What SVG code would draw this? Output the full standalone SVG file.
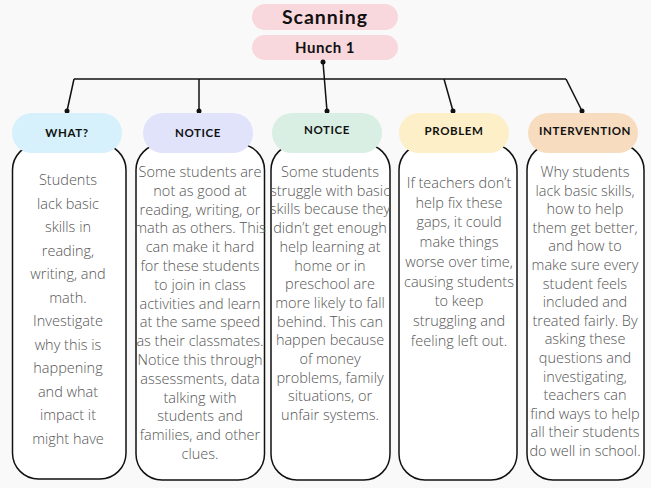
<svg xmlns="http://www.w3.org/2000/svg" width="651" height="488" viewBox="0 0 651 488">
<style>
.bg{fill:#f9f9f9}
.pill{stroke:none}
.box{fill:#ffffff;stroke:#111;stroke-width:1.5}
.hd{font-family:"Lato","Liberation Sans",sans-serif;font-weight:bold;font-size:11.5px;letter-spacing:0.6px;fill:#111;text-anchor:middle}
.tt{font-family:"Lato","Liberation Sans",sans-serif;font-weight:bold;fill:#111;text-anchor:middle}
.bd{font-family:"Open Sans","Liberation Sans",sans-serif;font-weight:300;fill:#555;text-anchor:middle;font-size:14.5px}
.ln{fill:none;stroke:#111;stroke-width:1.5}
.dot{fill:#111}
</style>
<rect class="bg" x="0" y="0" width="651" height="488"/>
<g id="scanning"><rect class="pill" x="252" y="4" width="146" height="26" rx="13" fill="#f8d8dd"/><text class="tt" x="325" y="24" font-size="19.5" letter-spacing="1">Scanning</text></g>
<g id="hunch"><rect class="pill" x="252" y="35" width="146" height="25" rx="12.5" fill="#f8d8dd"/><text class="tt" x="325" y="53" font-size="15" letter-spacing="0.5">Hunch 1</text></g>
<g id="connectors">
<circle class="dot" cx="323" cy="62" r="2.5"/>
<path class="ln" d="M323,62 L327,111"/>
<path class="ln" d="M74,79 L566,79"/>
<path class="ln" d="M74,79 L67,111"/>
<path class="ln" d="M199,79 L199,111"/>
<path class="ln" d="M444,79 L453,111"/>
<path class="ln" d="M566,79 L582,111"/>
<circle class="dot" cx="67" cy="111" r="2.5"/>
<circle class="dot" cx="199" cy="111" r="2.5"/>
<circle class="dot" cx="327" cy="111" r="2.5"/>
<circle class="dot" cx="453" cy="111" r="2.5"/>
<circle class="dot" cx="582" cy="111" r="2.5"/>
</g>
<g id="what">
<rect class="box" x="12.5" y="144" width="113.5" height="335" rx="26"/>
<rect class="pill" x="12" y="113" width="110" height="40" rx="20" fill="#d6f1fb"/>
<text class="hd" x="67" y="137">WHAT?</text>
<text class="bd" font-size="17.5">
<tspan x="68" y="185">Students</tspan><tspan x="68" y="208.5">lack basic</tspan><tspan x="68" y="232">skills in</tspan><tspan x="68" y="255.5">reading,</tspan><tspan x="68" y="279">writing, and</tspan><tspan x="68" y="302.5">math.</tspan><tspan x="68" y="326">Investigate</tspan><tspan x="68" y="349.5">why this is</tspan><tspan x="68" y="373">happening</tspan><tspan x="68" y="396.5">and what</tspan><tspan x="68" y="420">impact it</tspan><tspan x="68" y="443.5">might have</tspan>
</text>
</g>
<g id="notice1">
<rect class="box" x="136" y="144" width="128.5" height="336" rx="26"/>
<rect class="pill" x="143" y="113" width="110" height="40" rx="20" fill="#e1e3fb"/>
<text class="hd" x="198" y="137">NOTICE</text>
<text class="bd">
<tspan x="200" y="177">Some students are</tspan><tspan x="200" y="195.8">not as good at</tspan><tspan x="200" y="214.6">reading, writing, or</tspan><tspan x="200" y="233.4">math as others. This</tspan><tspan x="200" y="252.2">can make it hard</tspan><tspan x="200" y="271">for these students</tspan><tspan x="200" y="289.8">to join in class</tspan><tspan x="200" y="308.6">activities and learn</tspan><tspan x="200" y="327.4">at the same speed</tspan><tspan x="200" y="346.2">as their classmates.</tspan><tspan x="200" y="365">Notice this through</tspan><tspan x="200" y="383.8">assessments, data</tspan><tspan x="200" y="402.6">talking with</tspan><tspan x="200" y="421.4">students and</tspan><tspan x="200" y="440.2">families, and other</tspan><tspan x="200" y="459">clues.</tspan>
</text>
</g>
<g id="notice2">
<rect class="box" x="271" y="144" width="119" height="336" rx="26"/>
<rect class="pill" x="272" y="113" width="110" height="40" rx="20" fill="#d9efe3"/>
<text class="hd" x="327" y="134">NOTICE</text>
<text class="bd">
<tspan x="330" y="177">Some students</tspan><tspan x="330" y="195.7">struggle with basic</tspan><tspan x="330" y="214.4">skills because they</tspan><tspan x="330" y="233.1">didn’t get enough</tspan><tspan x="330" y="251.8">help learning at</tspan><tspan x="330" y="270.5">home or in</tspan><tspan x="330" y="289.2">preschool are</tspan><tspan x="330" y="307.9">more likely to fall</tspan><tspan x="330" y="326.6">behind. This can</tspan><tspan x="330" y="345.3">happen because</tspan><tspan x="330" y="364">of money</tspan><tspan x="330" y="382.7">problems, family</tspan><tspan x="330" y="401.4">situations, or</tspan><tspan x="330" y="420.1">unfair systems.</tspan>
</text>
</g>
<g id="problem">
<rect class="box" x="399" y="144" width="118" height="336" rx="26"/>
<rect class="pill" x="399" y="113" width="110" height="40" rx="20" fill="#fdefc7"/>
<text class="hd" x="454" y="135">PROBLEM</text>
<text class="bd">
<tspan x="459" y="188">If teachers don’t</tspan><tspan x="459" y="207.7">help fix these</tspan><tspan x="459" y="227.4">gaps, it could</tspan><tspan x="459" y="247.1">make things</tspan><tspan x="459" y="266.8">worse over time,</tspan><tspan x="459" y="286.5">causing students</tspan><tspan x="459" y="306.2">to keep</tspan><tspan x="459" y="325.9">struggling and</tspan><tspan x="459" y="345.6">feeling left out.</tspan>
</text>
</g>
<g id="intervention">
<rect class="box" x="527" y="144" width="117" height="336" rx="26"/>
<rect class="pill" x="528" y="113" width="110" height="40" rx="20" fill="#f8dcc0"/>
<text class="hd" x="585" y="135">INTERVENTION</text>
<text class="bd">
<tspan x="585" y="177">Why students</tspan><tspan x="585" y="195.6">lack basic skills,</tspan><tspan x="585" y="214.2">how to help</tspan><tspan x="585" y="232.8">them get better,</tspan><tspan x="585" y="251.4">and how to</tspan><tspan x="585" y="270">make sure every</tspan><tspan x="585" y="288.6">student feels</tspan><tspan x="585" y="307.2">included and</tspan><tspan x="585" y="325.8">treated fairly. By</tspan><tspan x="585" y="344.4">asking these</tspan><tspan x="585" y="363">questions and</tspan><tspan x="585" y="381.6">investigating,</tspan><tspan x="585" y="400.2">teachers can</tspan><tspan x="585" y="418.8">find ways to help</tspan><tspan x="585" y="437.4">all their students</tspan><tspan x="585" y="456">do well in school.</tspan>
</text>
</g>
</svg>
